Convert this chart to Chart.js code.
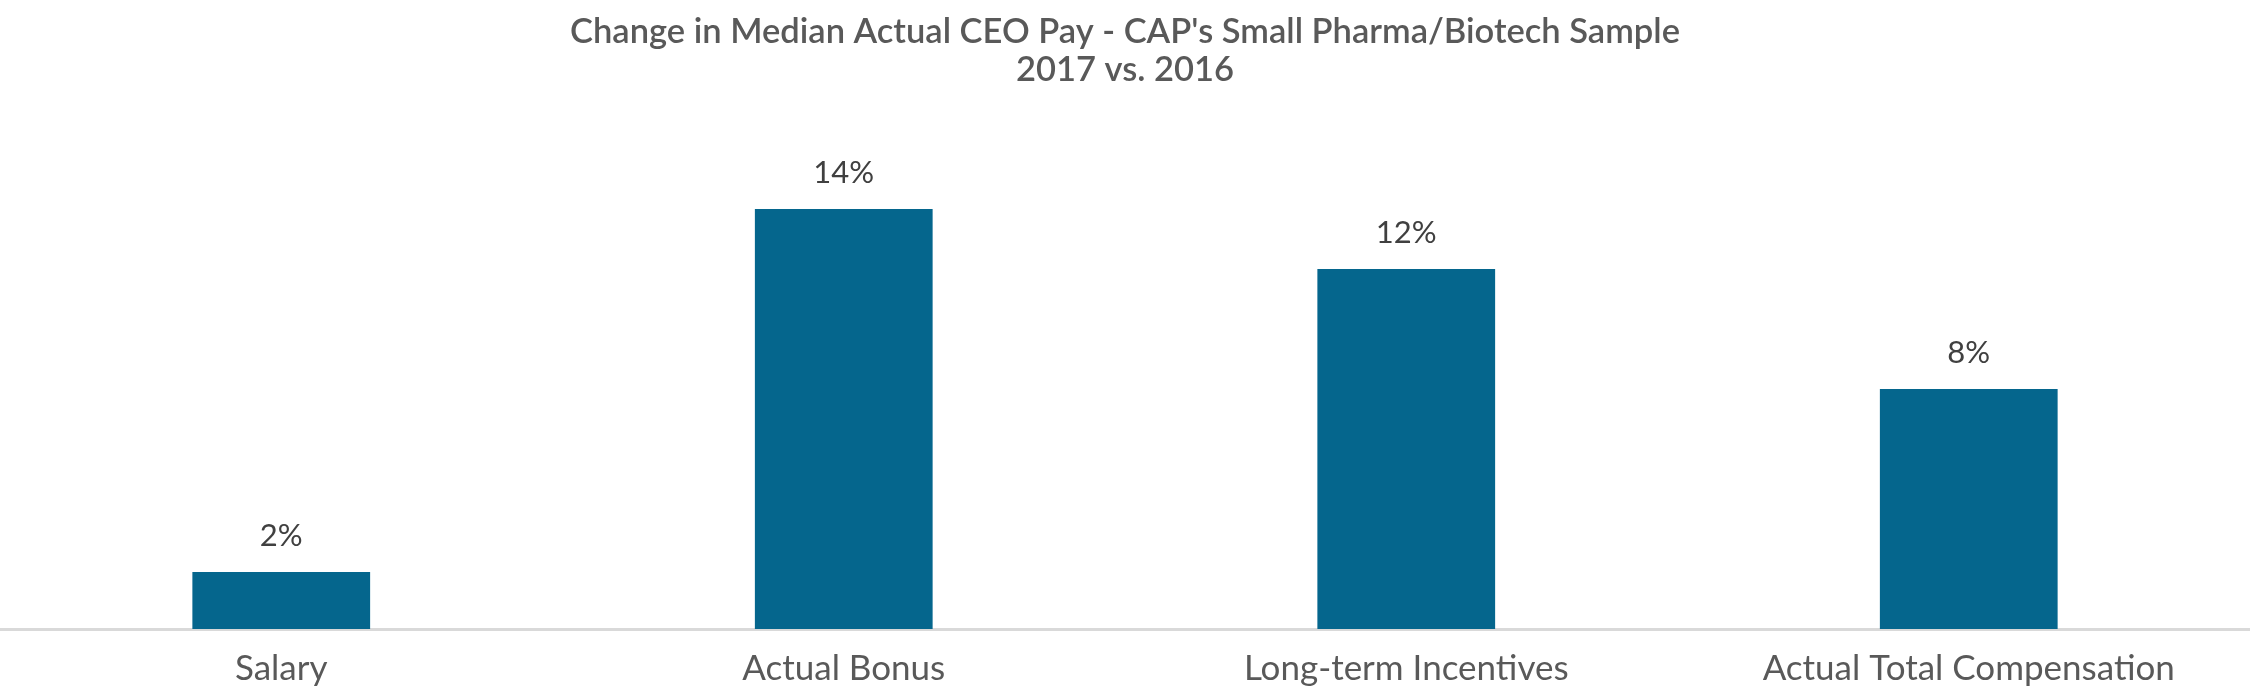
<!DOCTYPE html>
<html>
<head>
<meta charset="utf-8">
<script src="https://cdn.jsdelivr.net/npm/chart.js@4/dist/chart.umd.min.js"></script>
<style>
html,body{margin:0;padding:0;background:#fff;}
#wrap{width:2250px;height:700px;}
</style>
</head>
<body>
<div id="wrap"><canvas id="c" width="2250" height="700"></canvas></div>
<script>
const categories = ["Salary", "Actual Bonus", "Long-term Incentives", "Actual Total Compensation"];
const changePct = [1.9, 14.0, 12.0, 8.0];
const titleLines = ["Change in Median Actual CEO Pay - CAP's Small Pharma/Biotech Sample", "2017 vs. 2016"];

const labelPlugin = {
  id: 'barLabels',
  afterDatasetsDraw(chart) {
    const ctx = chart.ctx;
    const meta = chart.getDatasetMeta(0);
    ctx.save();
    ctx.font = '31px Lato';
    ctx.fillStyle = '#404040';
    ctx.textAlign = 'center';
    ctx.textBaseline = 'middle';
    meta.data.forEach((bar, i) => {
      ctx.fillText(Math.round(changePct[i]) + '%', bar.x, bar.y - 36);
    });
    ctx.restore();
  }
};

new Chart(document.getElementById('c'), {
  type: 'bar',
  data: {
    labels: categories,
    datasets: [{
      data: changePct,
      backgroundColor: '#05668d',
      borderWidth: 0,
      categoryPercentage: 1.0,
      barPercentage: 0.316
    }]
  },
  options: {
    responsive: false,
    devicePixelRatio: 1,
    animation: false,
    layout: { padding: { left: 0, right: 0, top: 0, bottom: -9 } },
    plugins: {
      legend: { display: false },
      tooltip: { enabled: false },
      title: {
        display: true,
        text: titleLines,
        color: '#595959',
        font: { family: 'Lato', size: 34.5, weight: '600', lineHeight: 1.1 },
        padding: { top: 13, bottom: 60 }
      }
    },
    scales: {
      x: {
        grid: { display: false, drawTicks: false },
        border: { display: true, color: '#d9d9d9', width: 3 },
        ticks: { color: '#595959', font: { family: 'Lato', size: 35 }, padding: 19, maxRotation: 0 }
      },
      y: {
        display: false,
        min: 0,
        max: 16
      }
    }
  },
  plugins: [labelPlugin]
});
</script>
</body>
</html>
